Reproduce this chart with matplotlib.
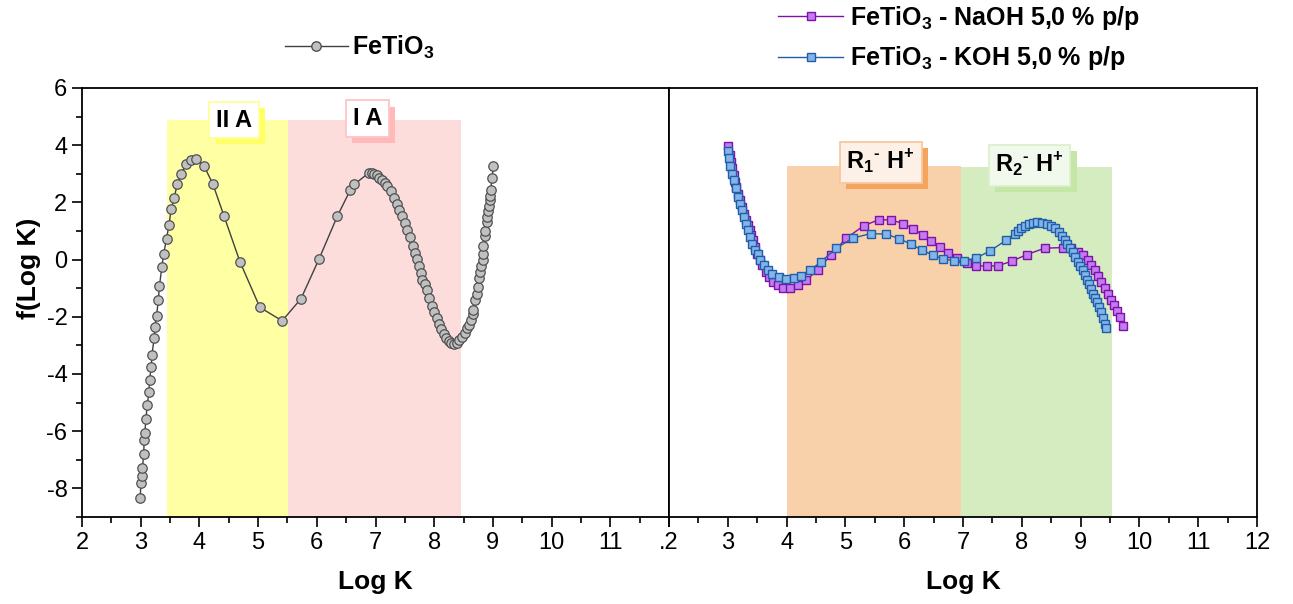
import numpy as np
import matplotlib
matplotlib.use('Agg')
import matplotlib.pyplot as plt
from matplotlib import patheffects as pe
from matplotlib.lines import Line2D
from matplotlib.ticker import MultipleLocator

plt.rcParams['font.family'] = ['Liberation Sans', 'DejaVu Sans']
plt.rcParams['mathtext.fontset'] = 'custom'
plt.rcParams['mathtext.rm'] = 'Liberation Sans'
plt.rcParams['mathtext.bf'] = 'Liberation Sans:bold'
plt.rcParams['axes.unicode_minus'] = False

# FeTiO3 (panel izquierdo)
fe_logk = [2.99, 3.005, 3.017, 3.03, 3.05, 3.06, 3.07, 3.09, 3.11, 3.14,
           3.15, 3.18, 3.19, 3.23, 3.24, 3.27, 3.30, 3.32, 3.36, 3.39,
           3.44, 3.48, 3.52, 3.57, 3.62, 3.69, 3.77, 3.85, 3.95, 4.08,
           4.23, 4.42, 4.69, 5.03, 5.41, 5.73, 6.04, 6.35, 6.57, 6.64,
           6.89, 6.935, 6.975, 7.02, 7.065, 7.11, 7.16, 7.20, 7.26, 7.315,
           7.36, 7.406, 7.45, 7.497, 7.54, 7.58, 7.633, 7.68, 7.70, 7.735,
           7.77, 7.80, 7.838, 7.87, 7.917, 7.957, 7.997, 8.04, 8.088, 8.122,
           8.167, 8.201, 8.247, 8.292, 8.337, 8.383, 8.428, 8.474, 8.519, 8.553,
           8.587, 8.621, 8.655, 8.667, 8.70, 8.724, 8.746, 8.769, 8.78, 8.803,
           8.826, 8.826, 8.837, 8.86, 8.871, 8.894, 8.905, 8.917, 8.94, 8.951,
           8.951, 8.962, 8.985, 9.007]
fe_f = [-8.34, -7.81, -7.56, -7.30, -6.79, -6.30, -6.05, -5.56, -5.10, -4.64,
        -4.20, -3.77, -3.35, -2.74, -2.34, -1.96, -1.42, -0.91, -0.27, 0.18,
        0.73, 1.20, 1.76, 2.14, 2.63, 2.99, 3.33, 3.50, 3.51, 3.27,
        2.64, 1.52, -0.07, -1.67, -2.14, -1.37, 0.03, 1.52, 2.43, 2.63,
        3.04, 3.04, 3.01, 2.95, 2.87, 2.78, 2.69, 2.59, 2.41, 2.17,
        1.96, 1.75, 1.54, 1.29, 1.03, 0.80, 0.49, 0.24, 0.03, -0.23,
        -0.46, -0.70, -0.86, -1.07, -1.35, -1.61, -1.84, -2.05, -2.26, -2.42,
        -2.59, -2.73, -2.84, -2.91, -2.96, -2.91, -2.82, -2.70, -2.56, -2.40,
        -2.28, -2.10, -1.91, -1.75, -1.42, -1.21, -0.95, -0.63, -0.44, -0.21,
        0.00, 0.21, 0.49, 0.84, 1.01, 1.31, 1.50, 1.71, 1.89, 2.08,
        2.24, 2.45, 2.85, 3.27]

# FeTiO3 - NaOH 5,0 % p/p
naoh_logk = [2.995, 3.03, 3.052, 3.075, 3.098, 3.12, 3.143, 3.166, 3.20, 3.234,
             3.268, 3.303, 3.337, 3.371, 3.394, 3.428, 3.462, 3.496, 3.541, 3.587,
             3.644, 3.701, 3.769, 3.849, 3.94, 4.053, 4.19, 4.338, 4.531, 4.759,
             5.009, 5.316, 5.578, 5.783, 5.987, 6.158, 6.317, 6.454, 6.602, 6.75,
             6.898, 7.068, 7.227, 7.41, 7.603, 7.83, 8.08, 8.388, 8.695, 8.843,
             8.957, 9.042, 9.127, 9.184, 9.241, 9.298, 9.355, 9.412, 9.468, 9.525,
             9.571, 9.616, 9.662, 9.719]
naoh_f = [3.97, 3.655, 3.42, 3.19, 2.955, 2.72, 2.55, 2.31, 2.08, 1.85,
          1.61, 1.40, 1.205, 1.03, 0.85, 0.68, 0.45, 0.21, -0.02, -0.195,
          -0.43, -0.60, -0.78, -0.895, -0.98, -0.98, -0.895, -0.72, -0.35, 0.17,
          0.74, 1.19, 1.40, 1.38, 1.26, 1.065, 0.87, 0.66, 0.45, 0.24,
          0.07, -0.11, -0.21, -0.23, -0.21, -0.055, 0.17, 0.40, 0.42, 0.39,
          0.27, 0.155, -0.02, -0.195, -0.37, -0.56, -0.77, -0.98, -1.19, -1.40,
          -1.58, -1.79, -2.00, -2.31]

# FeTiO3 - KOH 5,0 % p/p
koh_logk = [2.995, 3.018, 3.041, 3.075, 3.098, 3.132, 3.166, 3.20, 3.234, 3.268,
            3.303, 3.337, 3.382, 3.416, 3.462, 3.507, 3.553, 3.61, 3.678, 3.758,
            3.871, 3.985, 4.122, 4.247, 4.395, 4.588, 4.838, 5.123, 5.43, 5.692,
            5.919, 6.113, 6.306, 6.488, 6.659, 6.841, 7.023, 7.228, 7.466, 7.734,
            7.876, 7.933, 7.99, 8.046, 8.115, 8.189, 8.263, 8.342, 8.422, 8.502,
            8.57, 8.627, 8.683, 8.729, 8.775, 8.82, 8.866, 8.911, 8.957, 8.99,
            9.036, 9.07, 9.104, 9.15, 9.184, 9.218, 9.252, 9.286, 9.32, 9.355,
            9.389, 9.423, 9.434]
koh_f = [3.81, 3.54, 3.27, 3.01, 2.78, 2.49, 2.20, 1.96, 1.73, 1.50,
         1.26, 1.03, 0.80, 0.56, 0.33, 0.19, -0.02, -0.195, -0.35, -0.49,
         -0.60, -0.685, -0.66, -0.57, -0.38, -0.07, 0.39, 0.75, 0.91, 0.89,
         0.73, 0.54, 0.33, 0.155, 0.03, -0.04, -0.04, 0.06, 0.31, 0.68,
         0.91, 1.01, 1.09, 1.17, 1.24, 1.29, 1.30, 1.29, 1.26, 1.19,
         1.10, 0.98, 0.84, 0.70, 0.56, 0.42, 0.26, 0.10, -0.07, -0.21,
         -0.37, -0.53, -0.70, -0.86, -1.02, -1.19, -1.35, -1.49, -1.65, -1.84,
         -2.03, -2.24, -2.38]

# zonas sombreadas: (inicio, fin, altura)
zonas_izq = [(3.45, 5.51, 4.88), (5.51, 8.46, 4.88)]
zonas_der = [(4.0, 6.97, 3.27), (6.97, 9.53, 3.24)]
etiquetas_izq = ['II A', 'I A']
etiquetas_der = ['R$_{\\mathbf{1}}$$^{\\mathbf{\u2010}}$ H$^{\\mathbf{+}}$',
                 'R$_{\\mathbf{2}}$$^{\\mathbf{\u2010}}$ H$^{\\mathbf{+}}$']
pos_etiquetas_izq = [(4.59, 4.88), (6.86, 4.93)]
pos_etiquetas_der = [(5.6, 3.4), (8.13, 3.3)]

W, H = 1293, 604
fig = plt.figure(figsize=(W / 100, H / 100), dpi=100)
ax1 = fig.add_axes([82 / W, 1 - 517 / H, 587 / W, 429 / H])
ax2 = fig.add_axes([669 / W, 1 - 517 / H, 588 / W, 429 / H])

YMIN = -9

def zona(ax, z, color):
    ax.fill_between([z[0], z[1]], YMIN, z[2], color=color, lw=0, zorder=1)

def etiqueta(ax, pos, s, fc, ec, sombra):
    t = ax.text(pos[0], pos[1], s, ha='center', va='center', fontsize=17,
                fontweight='bold', zorder=5,
                bbox=dict(boxstyle='square,pad=0.28', fc=fc, ec=ec, lw=1.3))
    t.get_bbox_patch().set_path_effects(
        [pe.SimplePatchShadow(offset=(4.5, -4.5), shadow_rgbFace=sombra, alpha=1),
         pe.Normal()])

zona(ax1, zonas_izq[0], '#FFFFA3')
zona(ax1, zonas_izq[1], '#FDDCDC')
etiqueta(ax1, pos_etiquetas_izq[0], etiquetas_izq[0], 'white', '#FFFF99', '#FFFF66')
etiqueta(ax1, pos_etiquetas_izq[1], etiquetas_izq[1], 'white', '#FFC4C4', '#FFB9B9')

ax1.plot(fe_logk, fe_f, color='#404040', lw=1, marker='o', ms=6.8,
         mfc='#C0C0C0', mec='#505050', mew=0.9, zorder=3)

zona(ax2, zonas_der[0], '#F8D1AA')
zona(ax2, zonas_der[1], '#D4ECBF')
etiqueta(ax2, pos_etiquetas_der[0], etiquetas_der[0], '#FDF1E7', '#F8C8A0', '#F4A45C')
etiqueta(ax2, pos_etiquetas_der[1], etiquetas_der[1], '#F1F9EC', '#DCF0CC', '#C6E6A8')

ax2.plot(naoh_logk, naoh_f, color='#8010A8', lw=1, marker='s', ms=6,
         mfc='#C07CF0', mec='#8010A8', mew=1, zorder=3)
ax2.plot(koh_logk, koh_f, color='#1F5FA8', lw=1, marker='s', ms=6,
         mfc='#84B4EA', mec='#1F5FA8', mew=1, zorder=4)

for ax in (ax1, ax2):
    ax.set_xlim(2, 12)
    ax.set_ylim(YMIN, 6)
    ax.xaxis.set_major_locator(MultipleLocator(1))
    ax.xaxis.set_minor_locator(MultipleLocator(0.5))
    ax.yaxis.set_major_locator(MultipleLocator(2))
    ax.yaxis.set_minor_locator(MultipleLocator(1))
    ax.tick_params(which='both', direction='out', width=1.2, labelsize=17,
                   top=False, right=False)
    ax.tick_params(which='major', length=7)
    ax.tick_params(which='minor', length=4)
    for s in ax.spines.values():
        s.set_linewidth(1.3)
    ax.set_xlabel('Log K', fontsize=19, fontweight='bold', labelpad=12)

ax1.set_xticks(range(2, 13))
ax1.set_xticklabels([str(v) for v in range(2, 12)] + [''])
ax2.set_xticks(range(2, 13))
ax2.set_xticklabels(['.2'] + [str(v) for v in range(3, 13)])
ax2.tick_params(which='both', left=False, labelleft=False)
ax1.set_ylabel('f(Log K)', fontsize=19, fontweight='bold')
ax1.yaxis.set_label_coords(-0.07, 0.58)

h1 = Line2D([], [], color='#404040', lw=1, marker='o', ms=6.8,
            mfc='#C0C0C0', mec='#505050')
fig.legend([h1], [r'FeTiO$_{\mathbf{3}}$'], loc='center left',
           bbox_to_anchor=(285 / W, 1 - 47 / H), frameon=False,
           prop={'size': 18, 'weight': 'bold'}, handlelength=2.5,
           handletextpad=0.2, borderpad=0, borderaxespad=0)

h2 = Line2D([], [], color='#8010A8', lw=1, marker='s', ms=6,
            mfc='#C07CF0', mec='#8010A8')
h3 = Line2D([], [], color='#1F5FA8', lw=1, marker='s', ms=6,
            mfc='#84B4EA', mec='#1F5FA8')
fig.legend([h2, h3], [r'FeTiO$_{\mathbf{3}}$ - NaOH 5,0 % p/p',
                      r'FeTiO$_{\mathbf{3}}$ - KOH 5,0 % p/p'],
           loc='center left', bbox_to_anchor=(778 / W, 1 - 38 / H),
           frameon=False, prop={'size': 18, 'weight': 'bold'},
           handlelength=2.6, handletextpad=0.3, borderpad=0,
           borderaxespad=0, labelspacing=0.5)

fig.savefig('out.png', dpi=100)
